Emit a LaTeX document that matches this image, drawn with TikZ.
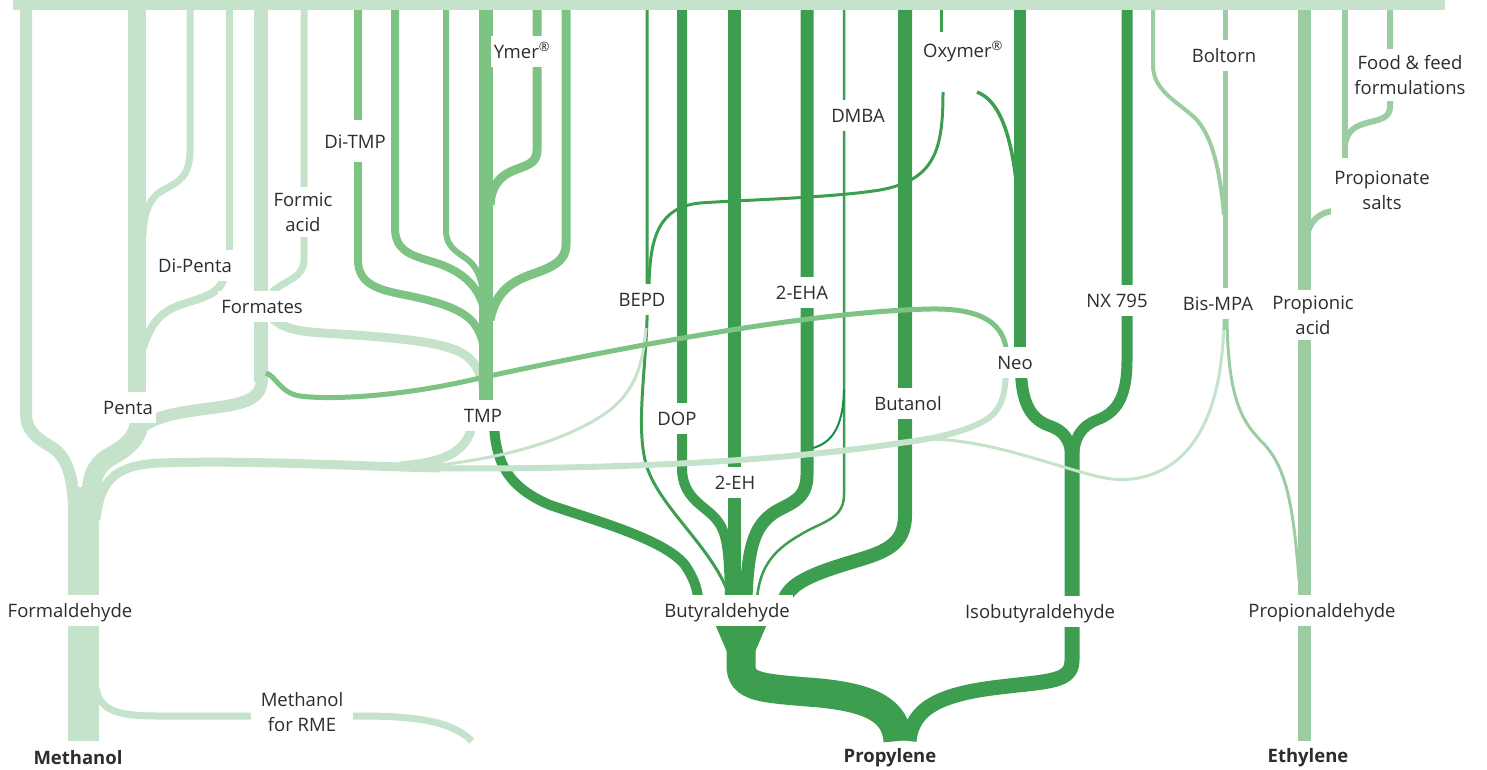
\documentclass[tikz,border=0pt]{standalone}
\usepackage{fontspec}
\setmainfont{Open Sans}
\definecolor{cPale}{RGB}{197,226,203}
\definecolor{cMed}{RGB}{125,195,131}
\definecolor{cDark}{RGB}{61,158,80}
\definecolor{cDarkB}{RGB}{22,140,72}
\definecolor{cEth}{RGB}{156,205,162}
\definecolor{cText}{RGB}{45,45,45}
\newcommand{\labfont}{\fontsize{18.5}{25}\selectfont}
\begin{document}
\begin{tikzpicture}[x=1pt,y=-1pt, line cap=butt,
  pale/.style={draw=cPale},
  med/.style={draw=cMed},
  dark/.style={draw=cDark},
  eth/.style={draw=cEth},
  lbl/.style={fill=white, text=cText, font=\labfont, inner xsep=3pt, inner ysep=6.5pt, text height=16pt, text depth=2pt},
  lbltwo/.style={fill=white, text=cText, font=\labfont, inner xsep=3pt, inner ysep=6pt, align=center},
  base/.style={text=cText, font=\labfont\bfseries}
]
\useasboundingbox (0,0) rectangle (1487,769);

% ---------- dark (propylene) streams ----------
\draw[dark, line width=3] (647,8) -- (647,320) .. controls (645,380) and (634,440) .. (650,475) .. controls (668,515) and (716,553) .. (730,598);
\draw[dark, line width=10] (682,8) -- (682,468) .. controls (682,498) and (704,505) .. (716,519) .. controls (727,532) and (729,548) .. (730,598);
\draw[dark, line width=13] (734,8) -- (734,598);
\draw[dark, line width=13] (807,8) -- (807,475) .. controls (807,500) and (790,503) .. (775,512) .. controls (755,525) and (748,545) .. (746,598);
\draw[dark, line width=2.5] (844,8) -- (844,495) .. controls (844,520) and (820,522) .. (800,535) .. controls (770,552) and (760,570) .. (757,598);
\draw[dark, line width=14] (905,8) -- (905,515) .. controls (905,545) and (885,552) .. (855,561) .. controls (815,573) and (792,582) .. (785,598);
\draw[dark, line width=10] (494,425) .. controls (496,465) and (510,488) .. (550,505) .. controls (600,522) and (665,540) .. (685,565) .. controls (693,577) and (697,587) .. (698,598);
\draw[dark, line width=29] (741,600) -- (741,665) .. controls (741,688) and (760,688) .. (820,693) .. controls (870,698) and (896,710) .. (898,741);
\fill[cDark] (715,624) -- (767,624) -- (755,652) -- (727,652) -- cycle;
\draw[dark, line width=15] (1072,440) -- (1072,660) .. controls (1072,682) and (1050,681) .. (1000,687) .. controls (940,694) and (912,708) .. (909,741);
\draw[dark, line width=12] (1020,8) -- (1020,350);
\draw[dark, line width=12] (1021,372) .. controls (1022,405) and (1032,420) .. (1050,426) .. controls (1064,431) and (1071,440) .. (1072,460);
\draw[dark, line width=11] (1127,8) -- (1127,360) .. controls (1127,400) and (1115,413) .. (1097,420) .. controls (1082,426) and (1074,436) .. (1073,460);
\draw[dark, line width=3] (941,8) -- (941,32);
\draw[dark, line width=3] (943,92) .. controls (943,150) and (935,180) .. (880,190) .. controls (830,198) and (740,200) .. (700,203) .. controls (660,207) and (650,235) .. (649,285);
\draw[dark, line width=3.5] (977,92) .. controls (998,100) and (1010,130) .. (1016,180);
\draw[cDarkB, line width=2] (813,448) .. controls (830,443) and (843,430) .. (844,390);

% ---------- pale (methanol) streams ----------
\draw[pale, line width=12] (26,8) -- (26,413) .. controls (26,430) and (35,437) .. (50,446) .. controls (65,455) and (72,470) .. (74,505);
\draw[pale, line width=31] (83,487) -- (83,741);
\draw[pale, line width=18] (137,8) -- (137,400);
\draw[pale, line width=12] (262,378) .. controls (262,400) and (245,404) .. (205,409) .. controls (175,413) and (160,416) .. (145,425);
\draw[pale, line width=19] (140,412) .. controls (141,440) and (125,448) .. (108,458) .. controls (95,466) and (91,478) .. (90,505);
\draw[pale, line width=7] (190,8) -- (190,150) .. controls (190,180) and (175,183) .. (160,192) .. controls (148,200) and (144,215) .. (143,235);
\draw[pale, line width=7] (229,8) -- (229,260);
\draw[pale, line width=8] (224,275) .. controls (222,295) and (200,298) .. (180,305) .. controls (160,312) and (150,325) .. (143,348);
\draw[pale, line width=14] (261,8) -- (261,382);
\draw[pale, line width=7] (304,8) -- (304,260) .. controls (304,278) and (285,280) .. (272,292);
\draw[pale, line width=9] (272,318) .. controls (285,330) and (300,332) .. (340,334) .. controls (400,338) and (440,342) .. (460,352) .. controls (475,360) and (482,372) .. (485,398);
\draw[pale, line width=9] (96,520) .. controls (100,480) and (115,465) .. (160,463) .. controls (250,460) and (350,466) .. (440,468);
\draw[pale, line width=9] (472,425) .. controls (467,452) and (445,462) .. (400,466);
\draw[pale, line width=3] (420,467) .. controls (500,460) and (570,440) .. (610,410) .. controls (635,390) and (643,365) .. (646,328);
\draw[pale, line width=6] (400,468) .. controls (550,470) and (750,466) .. (900,443) .. controls (950,437) and (985,425) .. (995,412) .. controls (1003,402) and (1005,392) .. (1006,372);
\draw[pale, line width=3] (930,439) .. controls (990,440) and (1050,465) .. (1100,477) .. controls (1140,486) and (1175,470) .. (1195,440) .. controls (1215,410) and (1223,370) .. (1224,318);
\draw[pale, line width=7] (96,688) .. controls (100,712) and (120,716) .. (160,716) -- (360,716) .. controls (420,716) and (452,722) .. (472,741);

% ---------- ethylene streams ----------
\draw[eth, line width=13] (1304,8) -- (1304,741);
\draw[eth, line width=6] (1305,250) .. controls (1306,225) and (1315,214) .. (1332,211);
\draw[eth, line width=6] (1345,8) -- (1345,158);
\draw[eth, line width=6] (1390,8) -- (1390,106) .. controls (1390,116) and (1384,119) .. (1370,122) .. controls (1355,126) and (1347,130) .. (1345,145);
\draw[eth, line width=5] (1225,8) -- (1225,330);
\draw[eth, line width=4] (1153,8) -- (1153,65) .. controls (1153,90) and (1175,100) .. (1195,118) .. controls (1212,135) and (1220,170) .. (1224,215);
\draw[eth, line width=3] (1227,318) .. controls (1228,395) and (1240,420) .. (1262,442) .. controls (1285,465) and (1293,500) .. (1299,580);

% ---------- medium (TMP) streams ----------
\draw[med, line width=8] (358,8) -- (358,260) .. controls (358,285) and (380,290) .. (405,295) .. controls (440,302) and (465,310) .. (475,325) .. controls (482,335) and (484,345) .. (485,360);
\draw[med, line width=8] (395,8) -- (395,228) .. controls (395,250) and (410,255) .. (430,261) .. controls (455,268) and (475,280) .. (483,305);
\draw[med, line width=6] (446,8) -- (446,230) .. controls (446,248) and (458,252) .. (468,260) .. controls (478,268) and (482,280) .. (484,300);
\draw[med, line width=14] (486,8) -- (486,425);
\draw[med, line width=9] (537,8) -- (537,150) .. controls (537,165) and (525,165) .. (510,172) .. controls (498,178) and (491,188) .. (490,205);
\draw[med, line width=9] (566,8) -- (566,245) .. controls (566,262) and (550,268) .. (530,275) .. controls (508,283) and (495,295) .. (490,320);
\draw[med, line width=5] (266,373) .. controls (276,376) and (280,393) .. (300,396) .. controls (330,400) and (400,397) .. (480,378) .. controls (600,352) and (800,312) .. (930,309) .. controls (985,308) and (1005,325) .. (1007,355);

% ---------- top bar ----------
\fill[cPale] (13,0) rectangle (1445,10);

% ---------- labels ----------
\node[lbl] (ymer) at (522,51) {Ymer\textsuperscript{®}};
\node[lbl] (oxymer) at (963,50) {Oxymer\textsuperscript{®}};
\node[lbl] (boltorn) at (1224,55) {Boltorn};
\node[lbltwo] (food) at (1410,75) {Food \& feed\\formulations};
\node[lbl] (dmba) at (858,115) {DMBA};
\node[lbl, inner ysep=12pt] (ditmp) at (355,141) {Di-TMP};
\node[lbltwo] (salts) at (1382,190) {Propionate\\salts};
\node[lbltwo] (formic) at (303,212) {Formic\\acid};
\node[lbl] (dipenta) at (195,265) {Di-Penta};
\node[lbl] (bepd) at (642,299) {BEPD};
\node[lbl] (ehaa) at (802,292) {2-EHA};
\node[lbl] (nx) at (1117,300) {NX 795};
\node[lbl] (bismpa) at (1218,303) {Bis-MPA};
\node[lbltwo] (propionic) at (1313,315) {Propionic\\acid};
\node[lbl] (formates) at (262,306) {Formates};
\node[lbl] (neo) at (1015,362) {Neo};
\node[lbl] (penta) at (128,407) {Penta};
\node[lbl] (tmp) at (483,415) {TMP};
\node[lbl] (dop) at (677,418) {DOP};
\node[lbl] (butanol) at (908,403) {Butanol};
\node[lbl] (eh) at (735,482) {2-EH};
\node[lbl] (formald) at (70,610) {Formaldehyde};
\node[lbl] (butyr) at (727,610) {Butyraldehyde};
\node[lbl] (isob) at (1040,611) {Isobutyraldehyde};
\node[lbl] (propald) at (1322,610) {Propionaldehyde};
\node[lbltwo, inner xsep=10pt] (rme) at (302,712) {Methanol\\for RME};
\node[base] (methanol) at (78,758) {Methanol};
\node[base] (propylene) at (890,758) {Propylene};
\node[base] (ethylene) at (1308,758) {Ethylene};
\end{tikzpicture}
\end{document}
